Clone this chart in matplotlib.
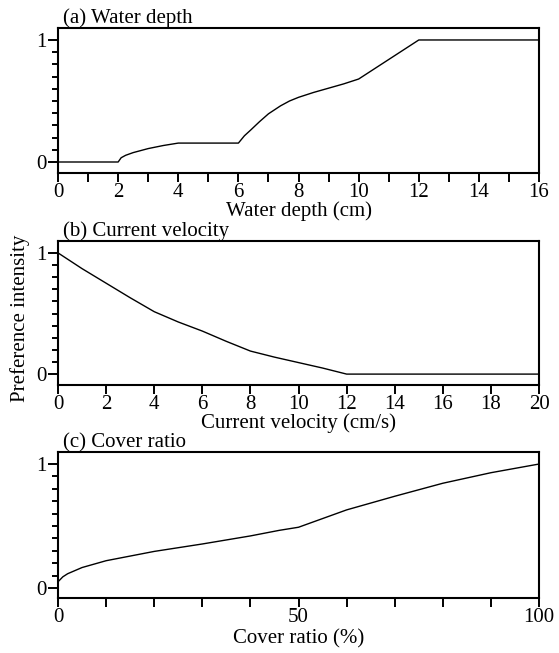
import matplotlib.pyplot as plt
from matplotlib.ticker import FixedLocator, NullLocator

# === Data ===
depth_x = [0, 2, 2.1, 2.25, 2.5, 3, 3.5, 4, 6, 6.2, 6.4, 6.7, 7, 7.4, 7.7, 8, 8.5, 9, 9.5, 10, 12, 16]
depth_y = [0, 0, 0.035, 0.055, 0.077, 0.11, 0.135, 0.155, 0.155, 0.215, 0.26, 0.33, 0.395, 0.46, 0.50, 0.53, 0.57, 0.605, 0.64, 0.68, 1.0, 1.0]

vel_x = [0, 1, 2, 3, 4, 5, 6, 7, 8, 9, 10, 11, 12, 20]
vel_y = [1.0, 0.87, 0.75, 0.63, 0.515, 0.43, 0.355, 0.27, 0.19, 0.14, 0.095, 0.05, 0.0, 0.0]

cover_x = [0, 1, 2, 5, 10, 20, 30, 40, 46, 50, 60, 70, 80, 90, 100]
cover_y = [0.05, 0.09, 0.115, 0.165, 0.22, 0.295, 0.355, 0.42, 0.465, 0.49, 0.63, 0.74, 0.845, 0.93, 1.0]

titles = ['(a) Water depth', '(b) Current velocity', '(c) Cover ratio']
xlabels = ['Water depth (cm)', 'Current velocity (cm/s)', 'Cover ratio (%)']

plt.rcParams['font.family'] = ['Liberation Serif', 'DejaVu Serif']
plt.rcParams['font.size'] = 15

fig = plt.figure(figsize=(5.59, 6.53), dpi=100)
rects = [[0.1038, 0.7351, 0.8605, 0.2220],
         [0.1038, 0.4104, 0.8605, 0.2205],
         [0.1038, 0.0842, 0.8605, 0.2236]]
axes = [fig.add_axes(r) for r in rects]

series = [(depth_x, depth_y), (vel_x, vel_y), (cover_x, cover_y)]
ylims = [(-0.09, 1.098), (-0.09, 1.098), (-0.081, 1.097)]
xlims = [(0, 16), (0, 20), (0, 100)]
xmajor = [list(range(0, 17, 2)), list(range(0, 21, 2)), [0, 50, 100]]
xminor = [list(range(0, 17)), [], list(range(0, 101, 10))]
xlabelpad = [-0.5, -0.5, 1]

for ax, (x, y), t, xl, yl, xlim, xmj, xmn, lp in zip(
        axes, series, titles, xlabels, ylims, xlims, xmajor, xminor, xlabelpad):
    ax.plot(x, y, color='black', lw=1.0)
    ax.set_xlim(*xlim)
    ax.set_ylim(*yl)
    ax.xaxis.set_major_locator(FixedLocator(xmj))
    if xmn:
        ax.xaxis.set_minor_locator(FixedLocator(xmn))
    else:
        ax.xaxis.set_minor_locator(NullLocator())
    ax.yaxis.set_major_locator(FixedLocator([0, 1]))
    ax.yaxis.set_minor_locator(FixedLocator([0.1, 0.2, 0.3, 0.4, 0.5, 0.6, 0.7, 0.8, 0.9]))
    for s in ax.spines.values():
        s.set_linewidth(1.5)
    ax.tick_params(axis='both', which='both', direction='out', width=1.4, labelsize=15)
    ax.tick_params(axis='x', which='both', length=6.5, pad=1)
    ax.tick_params(axis='y', which='major', length=7, pad=1)
    ax.tick_params(axis='y', which='minor', length=4.5)
    ax.set_xlabel(xl, labelpad=lp)
    ax.annotate(t, xy=(0, 1), xycoords='axes fraction', xytext=(5, 5),
                textcoords='offset pixels', ha='left', va='baseline', fontsize=15)

fig.text(20 / 559, 1 - 318 / 653, 'Preference intensity', rotation=90,
         ha='center', va='center', fontsize=15)

fig.savefig('out.png', dpi=100, facecolor='white')
